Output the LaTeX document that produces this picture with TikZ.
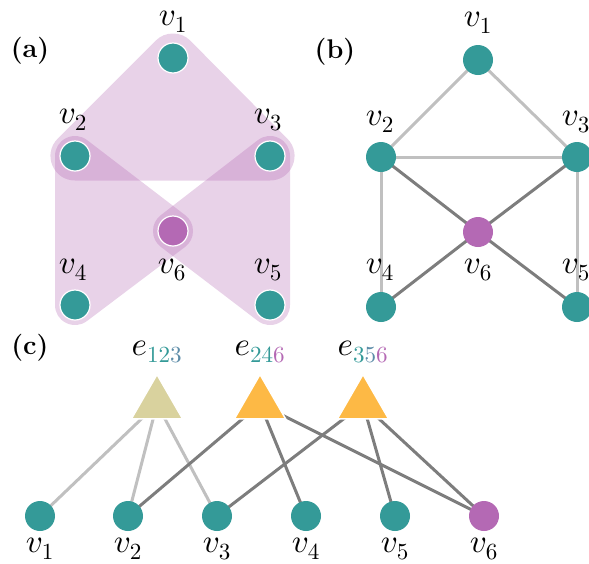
\documentclass[tikz,border=0pt]{standalone}
\usepackage{amsmath}
\DeclareFontFamily{OML}{cmm}{\skewchar\font127 }
\DeclareFontShape{OML}{cmm}{m}{it}{<-> cmmi10}{}
\DeclareFontShape{OT1}{cmr}{m}{n}{<-> cmr10}{}
\usetikzlibrary{shapes.geometric,backgrounds}
\definecolor{vteal}{RGB}{52,154,152}
\definecolor{vpurp}{RGB}{180,105,180}
\definecolor{vslate}{RGB}{92,140,168}
\definecolor{elight}{RGB}{192,192,192}
\definecolor{edark}{RGB}{125,125,125}
\definecolor{tkhaki}{RGB}{217,210,158}
\definecolor{torange}{RGB}{253,185,69}
\begin{document}
\begin{tikzpicture}[x=1pt,y=-1pt,
  vert/.style={circle,fill=vteal,minimum size=30pt,inner sep=0pt},
  vmid/.style={vert,fill=vpurp},
  rim/.style={draw=white,line width=1.2pt},
  lab/.style={font=\fontsize{33}{36}\selectfont,inner sep=0pt},
  tag/.style={font=\fontsize{27}{30}\selectfont\bfseries,inner sep=0pt},
  hedge/.style={regular polygon,regular polygon sides=3,minimum size=59pt,inner sep=0pt,draw=white,line width=1.5pt},
  lite/.style={elight,line width=3pt},
  dark/.style={edark,line width=3pt},
  hull/.style={fill=vpurp,draw=vpurp,line join=round}]
\useasboundingbox (0,0) rectangle (589,563);
% (a) hypergraph
\node[tag] (taga) at (30,51) {(a)};
\node[vert,rim] (a1) at (173,58) {};
\node[vert,rim] (a2) at (75,156) {};
\node[vert,rim] (a3) at (270,156) {};
\node[vmid,rim] (a6) at (173,231) {};
\node[vert,rim] (a4) at (75,305) {};
\node[vert,rim] (a5) at (270,305) {};
\node[lab] at (173,22) {$v_1$};
\node[lab] at (73,120) {$v_2$};
\node[lab] at (268,120) {$v_3$};
\node[lab] at (73,270) {$v_4$};
\node[lab] at (172,270) {$v_6$};
\node[lab] at (268,270) {$v_5$};
\begin{scope}[on background layer]
\begin{scope}[transparency group,opacity=0.3]
\filldraw[hull,line width=49pt] (a1.center) -- (a2.center) -- (a3.center) -- cycle;
\end{scope}
\begin{scope}[transparency group,opacity=0.3]
\filldraw[hull,line width=40pt] (a2.center) -- (a4.center) -- (a6.center) -- cycle;
\end{scope}
\begin{scope}[transparency group,opacity=0.3]
\filldraw[hull,line width=40pt] (a3.center) -- (a5.center) -- (a6.center) -- cycle;
\end{scope}
\end{scope}
% (b) clique expansion
\node[tag] (tagb) at (335,52) {(b)};
\node[vert] (b1) at (478,60) {};
\node[vert] (b2) at (381,157) {};
\node[vert] (b3) at (577,157) {};
\node[vmid] (b6) at (478,232) {};
\node[vert] (b4) at (381,307) {};
\node[vert] (b5) at (577,307) {};
\node[lab] at (478,23) {$v_1$};
\node[lab] at (380,122) {$v_2$};
\node[lab] at (576,122) {$v_3$};
\node[lab] at (380,270) {$v_4$};
\node[lab] at (478,270) {$v_6$};
\node[lab] at (576,270) {$v_5$};
\begin{scope}[on background layer]
\draw[lite] (b1.center) -- (b2.center);
\draw[lite] (b1.center) -- (b3.center);
\draw[lite] (b2.center) -- (b3.center);
\draw[lite] (b2.center) -- (b4.center);
\draw[lite] (b3.center) -- (b5.center);
\draw[dark] (b6.center) -- (b2.center);
\draw[dark] (b6.center) -- (b3.center);
\draw[dark] (b6.center) -- (b4.center);
\draw[dark] (b6.center) -- (b5.center);
\end{scope}
% (c) star expansion
\node[tag] (tagc) at (30,348) {(c)};
\node[hedge,fill=tkhaki] (e123) at (157,404) {};
\node[hedge,fill=torange] (e246) at (260,404) {};
\node[hedge,fill=torange] (e356) at (363,404) {};
\node[lab] at (157,352) {$e_{\textcolor{vteal}{12}\textcolor{vslate}{3}}$};
\node[lab] at (260,352) {$e_{\textcolor{vteal}{24}\textcolor{vpurp}{6}}$};
\node[lab] at (363,352) {$e_{\textcolor{vteal}{3}\textcolor{vslate}{5}\textcolor{vpurp}{6}}$};
\node[vert] (c1) at (40,516) {};
\node[vert] (c2) at (128,516) {};
\node[vert] (c3) at (217,516) {};
\node[vert] (c4) at (306,516) {};
\node[vert] (c5) at (395,516) {};
\node[vmid] (c6) at (484,516) {};
\node[lab] at (40,549) {$v_1$};
\node[lab] at (128,549) {$v_2$};
\node[lab] at (217,549) {$v_3$};
\node[lab] at (306,549) {$v_4$};
\node[lab] at (395,549) {$v_5$};
\node[lab] at (484,549) {$v_6$};
\begin{scope}[on background layer]
\foreach \v in {c1,c2,c3} \draw[lite] (e123.center) -- (\v.center);
\foreach \v in {c2,c4,c6} \draw[dark] (e246.center) -- (\v.center);
\foreach \v in {c3,c5,c6} \draw[dark] (e356.center) -- (\v.center);
\end{scope}
\end{tikzpicture}
\end{document}
